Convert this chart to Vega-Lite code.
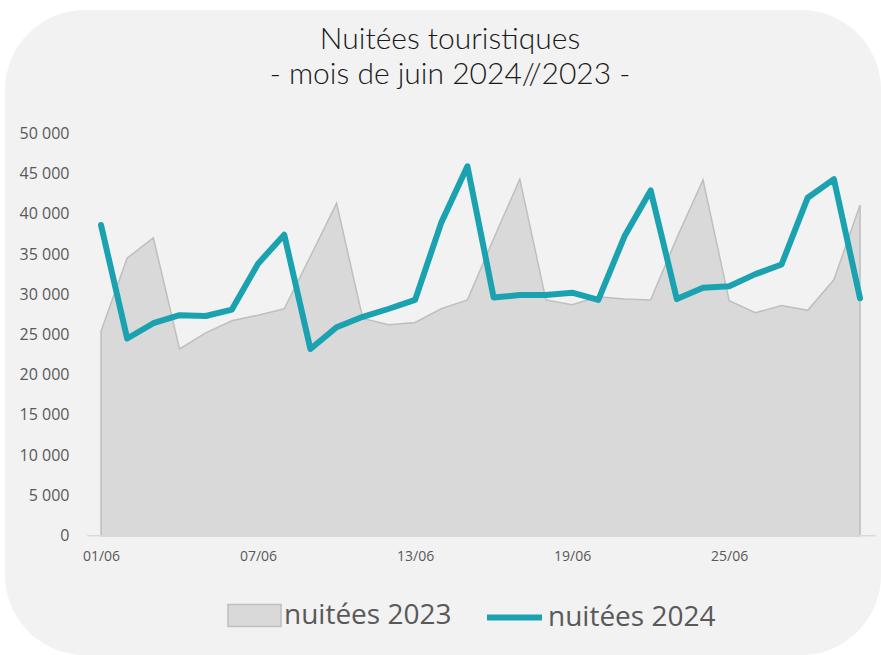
{
  "$schema": "https://vega.github.io/schema/vega-lite/v6.json",
  "width": 876,
  "height": 645,
  "autosize": {"type": "none"},
  "padding": {"left": 5, "top": 10, "right": 0, "bottom": 0},
  "background": "white",
  "config": {
    "view": {"fill": "#f2f2f2", "stroke": null, "cornerRadius": 80},
    "axis": {"labelFont": "Open Sans", "labelColor": "#595959", "grid": false, "domain": false, "ticks": false, "tickSize": 0, "title": null, "labelOverlap": false}
  },
  "title": {
    "text": ["Nuitées touristiques", "- mois de juin 2024//2023 -"],
    "frame": "group",
    "anchor": "middle",
    "offset": -80,
    "dx": 7,
    "font": "Lato",
    "fontWeight": 300,
    "fontSize": 30,
    "lineHeight": 35,
    "color": "#1a1a1a"
  },
  "data": {
    "values": [
      {"day": 1, "n2023": 25400, "n2024": 38600},
      {"day": 2, "n2023": 34500, "n2024": 24500},
      {"day": 3, "n2023": 37000, "n2024": 26400},
      {"day": 4, "n2023": 23200, "n2024": 27400},
      {"day": 5, "n2023": 25200, "n2024": 27300},
      {"day": 6, "n2023": 26700, "n2024": 28100},
      {"day": 7, "n2023": 27400, "n2024": 33800},
      {"day": 8, "n2023": 28200, "n2024": 37400},
      {"day": 9, "n2023": 34700, "n2024": 23200},
      {"day": 10, "n2023": 41300, "n2024": 25900},
      {"day": 11, "n2023": 27000, "n2024": 27200},
      {"day": 12, "n2023": 26200, "n2024": 28200},
      {"day": 13, "n2023": 26500, "n2024": 29300},
      {"day": 14, "n2023": 28200, "n2024": 38900},
      {"day": 15, "n2023": 29300, "n2024": 45900},
      {"day": 16, "n2023": 36900, "n2024": 29600},
      {"day": 17, "n2023": 44300, "n2024": 29900},
      {"day": 18, "n2023": 29300, "n2024": 29900},
      {"day": 19, "n2023": 28700, "n2024": 30200},
      {"day": 20, "n2023": 29700, "n2024": 29300},
      {"day": 21, "n2023": 29400, "n2024": 37200},
      {"day": 22, "n2023": 29300, "n2024": 42900},
      {"day": 23, "n2023": 37000, "n2024": 29400},
      {"day": 24, "n2023": 44200, "n2024": 30800},
      {"day": 25, "n2023": 29200, "n2024": 31000},
      {"day": 26, "n2023": 27700, "n2024": 32500},
      {"day": 27, "n2023": 28600, "n2024": 33700},
      {"day": 28, "n2023": 28000, "n2024": 42000},
      {"day": 29, "n2023": 31800, "n2024": 44300},
      {"day": 30, "n2023": 41100, "n2024": 29500}
    ]
  },
  "layer": [
    {
      "mark": {"type": "area", "fill": "#d9d9d9", "stroke": "#bfbfbf", "strokeWidth": 1.5},
      "encoding": {
        "x": {"field": "day", "type": "quantitative", "scale": {"domain": [-2.668, 30.8], "nice": false, "zero": false},
          "axis": {"values": [1, 7, 13, 19, 25], "labelExpr": "(datum.value < 10 ? '0' : '') + datum.value + '/06'", "offset": -110, "labelPadding": 4, "labelFontSize": 14, "labelFlush": false}},
        "y": {"field": "n2023", "type": "quantitative", "scale": {"domain": [-14823, 65320], "nice": false, "zero": false},
          "axis": {"values": [0, 5000, 10000, 15000, 20000, 25000, 30000, 35000, 40000, 45000, 50000], "labelExpr": "datum.value == 0 ? '0' : (datum.value / 1000) + ' 000'", "offset": -64, "labelPadding": 0, "labelFontSize": 16}},
        "y2": {"datum": 0},
        "fill": {"datum": "nuitées 2023", "type": "nominal", "scale": {"range": ["#d9d9d9"]},
          "legend": {"title": null, "orient": "none", "legendX": 222, "legendY": 578, "padding": 0, "symbolType": "M-1,-0.415H1V0.415H-1Z", "symbolSize": 2809, "symbolStrokeColor": "#bfbfbf", "symbolStrokeWidth": 1.5, "symbolOpacity": 1, "labelFont": "Open Sans", "labelFontSize": 28, "labelColor": "#595959", "labelOffset": 2, "labelLimit": 0}}
      }
    },
    {
      "data": {"values": [{"from": 0.47, "to": 30.6, "base": 0}]},
      "mark": {"type": "rule", "color": "#d9d9d9", "strokeWidth": 1.5},
      "encoding": {
        "x": {"field": "from", "type": "quantitative"},
        "x2": {"field": "to"},
        "y": {"field": "base", "type": "quantitative"}
      }
    },
    {
      "mark": {"type": "line", "strokeWidth": 6, "strokeCap": "round", "strokeJoin": "round"},
      "encoding": {
        "x": {"field": "day", "type": "quantitative"},
        "y": {"field": "n2024", "type": "quantitative"},
        "stroke": {"datum": "nuitées 2024", "type": "nominal", "scale": {"range": ["#1ba2b1"]},
          "legend": {"title": null, "orient": "none", "legendX": 479, "legendY": 577, "padding": 0, "symbolType": "stroke", "symbolSize": 3025, "symbolStrokeWidth": 6, "labelFont": "Open Sans", "labelFontSize": 28, "labelColor": "#595959", "labelOffset": 3, "labelLimit": 0}}
      }
    }
  ]
}
